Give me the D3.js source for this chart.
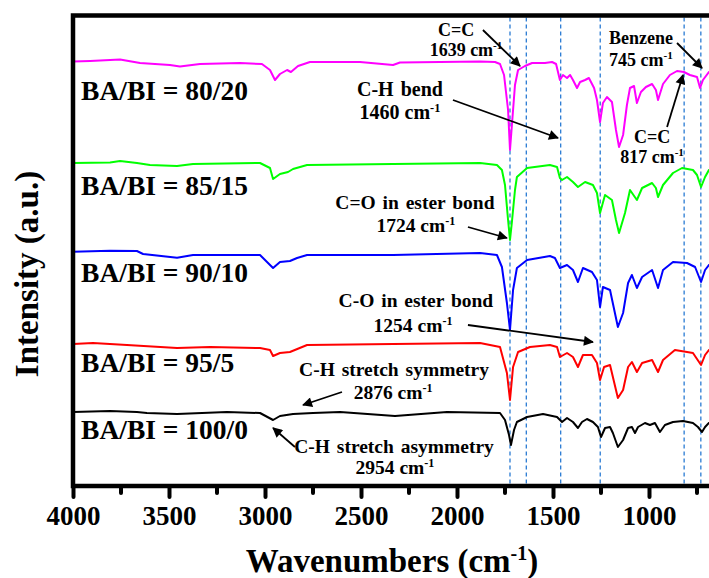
<!DOCTYPE html>
<html>
<head>
<meta charset="utf-8">
<script src="https://cdn.jsdelivr.net/npm/d3@7"></script>
<style>
    body { margin: 0; background: #fff; }
    svg { display: block; }
</style>
</head>
<body>
<svg id="chart" width="709" height="578"></svg>
<script>
// FTIR spectra, [wavenumber (cm-1), intensity (a.u., stacked)]
const ba80 = [[4000,42.45],[3911,42.5],[3755,42.65],[3651,42.3],[3495,42.1],[3443,41.95],[3339,42.2],[3130,42.3],[3016,42.2],
    [2974,41.6],[2948,40.6],[2922,41.2],[2885,41.6],[2865,41.4],[2828,42.0],[2766,42.4],[2505,42.4],[2333,42.1],[2297,42.35],
    [2089,42.4],[1880,42.45],[1802,42.4],[1776,42.2],[1755,41.1],[1734,37.6],[1724,33.6],[1714,36.1],[1698,40.1],[1682,41.6],
    [1646,42.0],[1609,42.3],[1542,42.3],[1505,42.4],[1484,42.2],[1464,40.6],[1448,41.1],[1427,40.8],[1411,41.1],[1396,40.6],
    [1375,39.8],[1359,40.4],[1333,40.6],[1313,40.8],[1286,39.8],[1271,38.6],[1255,36.4],[1240,38.3],[1219,38.9],[1193,38.4],
    [1172,35.6],[1156,33.9],[1135,35.1],[1115,38.1],[1099,39.8],[1078,40.0],[1063,38.3],[1042,39.4],[1016,39.9],[984,40.2],
    [964,39.6],[953,38.6],[927,40.2],[891,41.1],[854,41.5],[818,41.4],[787,41.1],[750,40.9],[734,39.8],[719,40.6],[688,41.4],[650,41.6]];

const ba85 = [[4000,32.3],[3807,32.35],[3755,32.5],[3667,32.3],[3599,32.1],[3458,32.0],[3375,32.2],[3026,32.3],[2974,31.8],
    [2958,30.7],[2922,31.2],[2880,31.4],[2854,31.7],[2781,32.1],[2333,32.2],[1880,32.3],[1792,32.1],[1766,31.6],[1750,30.1],
    [1734,26.6],[1724,24.6],[1714,26.4],[1698,29.6],[1688,30.9],[1635,31.8],[1516,32.1],[1479,31.9],[1464,30.8],[1453,30.6],
    [1427,30.9],[1396,30.4],[1370,29.9],[1333,30.4],[1292,30.1],[1271,29.3],[1255,27.3],[1229,29.1],[1193,28.6],[1172,26.6],
    [1156,25.3],[1125,27.3],[1099,29.6],[1063,28.6],[1036,29.8],[984,30.3],[964,29.8],[953,28.9],[927,30.1],[875,31.3],
    [828,31.8],[771,31.6],[750,31.1],[729,29.9],[708,30.9],[688,31.6],[650,31.8]];

const ba90 = [[4000,23.43],[3807,23.53],[3667,23.5],[3635,23.2],[3458,22.83],[3375,23.1],[3026,23.1],[2958,21.8],[2922,22.4],
    [2870,22.5],[2833,22.8],[2781,23.1],[2333,23.1],[1880,23.3],[1792,23.1],[1766,21.9],[1740,18.3],[1724,15.6],[1708,19.6],
    [1688,21.8],[1635,22.6],[1516,23.0],[1490,22.8],[1464,21.8],[1427,22.1],[1396,21.6],[1370,20.4],[1344,21.8],[1297,21.4],
    [1271,20.6],[1255,17.9],[1240,19.9],[1203,19.6],[1162,15.9],[1135,17.3],[1109,20.3],[1089,21.1],[1063,19.8],[1036,20.9],
    [984,21.6],[953,19.8],[927,21.6],[875,22.4],[802,22.3],[760,21.9],[729,20.4],[708,21.6],[688,22.1],[650,22.4]];

const ba95 = [[4000,14.2],[3896,14.3],[3719,14.1],[3458,13.8],[3286,13.9],[3026,13.8],[2974,13.6],[2958,13.0],[2922,13.3],
    [2870,13.4],[2781,14.1],[1880,14.3],[1776,13.9],[1740,11.3],[1724,8.6],[1708,11.9],[1682,13.4],[1620,13.9],[1516,14.1],
    [1479,13.9],[1464,12.9],[1427,13.3],[1396,12.9],[1370,11.9],[1344,13.1],[1297,13.1],[1271,12.3],[1255,10.6],[1234,11.9],
    [1203,12.1],[1162,8.8],[1135,9.6],[1109,11.9],[1089,12.4],[1063,11.4],[1036,12.3],[984,12.6],[953,11.4],[927,12.6],
    [865,13.6],[802,13.4],[771,13.3],[729,12.1],[708,13.1],[688,13.6],[650,13.8]];

const ba100 = [[4000,7.4],[3807,7.5],[3667,7.4],[3615,7.3],[3458,7.2],[3198,7.4],[3026,7.3],[2958,6.6],[2922,7.0],[2854,7.2],
    [2750,7.3],[2609,7.4],[2323,7.0],[2052,7.4],[1776,7.3],[1750,6.6],[1729,5.1],[1719,4.1],[1703,5.6],[1688,6.4],[1635,6.9],
    [1552,7.2],[1479,6.9],[1453,6.4],[1427,6.8],[1396,6.4],[1370,5.8],[1349,6.4],[1323,6.7],[1292,6.4],[1266,5.9],[1250,4.9],
    [1229,5.8],[1203,5.9],[1188,5.3],[1162,3.9],[1135,4.6],[1109,5.8],[1089,5.9],[1073,5.3],[1057,5.9],[1021,6.3],[995,6.1],
    [969,6.3],[943,5.4],[917,6.1],[875,6.4],[823,6.5],[771,6.3],[745,5.9],[724,5.4],[708,5.9],[688,6.3],[650,6.5]];

const seriesNames = ["BA/BI = 80/20", "BA/BI = 85/15", "BA/BI = 90/10", "BA/BI = 95/5", "BA/BI = 100/0"];
const seriesData = [ba80, ba85, ba90, ba95, ba100];
const xTicks = [4000, 3500, 3000, 2500, 2000, 1500, 1000];
const xMinorTicks = [3750, 3250, 2750, 2250, 1750, 1250, 750];
const peakLines = [1724, 1639, 1460, 1254, 817, 730];

// styling / layout
const colors = ["#ff00ff", "#00ff00", "#0000ff", "#ff0000", "#000000"];
const W = 709, H = 578;
const plotLeft = 73, plotTop = 15.5, plotBottom = 486;
const serif = "Liberation Serif";

const svg = d3.select("#chart")
    .attr("font-family", serif)
    .attr("font-weight", "bold");
let x = d3.scaleLinear().domain([4000, 650]).range([plotLeft, plotLeft + 3350 * 96 / 500]);
let y = d3.scaleLinear().domain([0, 47]).range([plotBottom, 16]);

let defs = svg.append("defs");
defs.append("clipPath").attr("id", "plot")
    .append("rect").attr("x", plotLeft).attr("y", plotTop)
    .attr("width", W - plotLeft).attr("height", plotBottom - plotTop);

defs.append("marker")
    .attr("id", "arrow").attr("viewBox", "0 0 10 10")
    .attr("refX", 9).attr("refY", 5)
    .attr("markerUnits", "userSpaceOnUse")
    .attr("markerWidth", 13).attr("markerHeight", 10)
    .attr("orient", "auto")
    .append("path").attr("d", "M0,0L10,5L0,10z").attr("fill", "#000");

// dashed peak markers
svg.append("g").selectAll("line")
    .data(peakLines)
    .enter().append("line")
    .attr("x1", d => x(d)).attr("x2", d => x(d))
    .attr("y1", plotTop + 2).attr("y2", plotBottom - 2)
    .attr("stroke", "#2a7bd3").attr("stroke-width", 1.3)
    .attr("stroke-dasharray", "4,3");

// spectra
let line = d3.line().x(d => x(d[0])).y(d => y(d[1]));
svg.append("g").attr("clip-path", "url(#plot)")
    .selectAll("path")
    .data(seriesData)
    .enter().append("path")
    .attr("d", line)
    .attr("fill", "none")
    .attr("stroke", (d, i) => colors[i])
    .attr("stroke-width", 2)
    .attr("stroke-linejoin", "round");

// sample labels (baseline in data units)
const labelY = [38.6, 29.1, 20.4, 11.4, 4.7];
svg.append("g").selectAll("text")
    .data(seriesNames)
    .enter().append("text")
    .attr("x", x(3958)).attr("y", (d, i) => y(labelY[i]))
    .attr("font-size", 27.5)
    .text(d => d);

// x axis
let axis = d3.axisBottom(x).tickValues(xTicks).tickSize(11).tickPadding(8).tickFormat(d3.format("d"));
let gx = svg.append("g").attr("transform", "translate(0," + plotBottom + ")").call(axis)
    .attr("font-family", serif);
gx.select(".domain").remove();
gx.selectAll(".tick line").attr("stroke-width", 4).attr("stroke-linecap", "round");
gx.selectAll(".tick text").attr("font-weight", "bold")
    .attr("font-size", 27).attr("dy", 0).attr("y", 39);
gx.selectAll(".minor").data(xMinorTicks).enter().append("line").attr("class", "minor")
    .attr("x1", d => x(d)).attr("x2", d => x(d)).attr("y1", 0).attr("y2", 7)
    .attr("stroke", "#000").attr("stroke-width", 4).attr("stroke-linecap", "round");

// frame (left, top, bottom)
svg.append("path")
    .attr("d", `M${W + 5},${plotTop}H${plotLeft}V${plotBottom}H${W + 5}`)
    .attr("fill", "none").attr("stroke", "#000").attr("stroke-width", 4.5);

// axis titles
let xt = svg.append("text").attr("x", 392).attr("y", 572).attr("text-anchor", "middle").attr("font-size", 33);
xt.append("tspan").text("Wavenumbers (cm");
xt.append("tspan").attr("dy", -12).attr("font-size", 20).text("-1");
xt.append("tspan").attr("dy", 12).text(")");

svg.append("text")
    .attr("transform", "translate(38,274) rotate(-90)")
    .attr("text-anchor", "middle").attr("font-size", 33)
    .text("Intensity (a.u.)");

// peak annotations: two lines of text + arrow, all in data units
const notes = [
    {a: "C=C", n: "1639", p1: [2005, 45.0], p2: [1953, 43.0], from: [1865, 45.6], to: [1672, 42.0], fs: 18},
    {a: "C-H bend", n: "1460", p1: [2297, 39.0], p2: [2297, 36.7], from: [2021, 38.6], to: [1474, 34.8], fs: 20},
    {a: "Benzene", n: "745", p1: [1042, 44.2], p2: [1042, 42.0], from: [854, 44.3], to: [724, 41.8], fs: 18},
    {a: "C=C", n: "817", p1: [984, 34.3], p2: [984, 32.3], from: [906, 35.9], to: [823, 41.1], fs: 18},
    {a: "C=O in ester bond", n: "1724", p1: [2219, 27.7], p2: [2214, 25.4], from: [1943, 25.9], to: [1740, 24.8], fs: 19.5},
    {a: "C-O in ester bond", n: "1254", p1: [2214, 17.9], p2: [2229, 15.4], from: [1943, 16.1], to: [1292, 14.4], fs: 19.5},
    {a: "C-H stretch symmetry", n: "2876", p1: [2328, 11.0], p2: [2333, 8.7], from: [2599, 9.4], to: [2802, 8.1], fs: 19.5},
    {a: "C-H stretch asymmetry", n: "2954", p1: [2328, 3.3], p2: [2323, 1.2], from: [2844, 3.9], to: [2958, 5.8], fs: 19.5}
];

let ng = svg.append("g").selectAll("g").data(notes).enter().append("g");
ng.append("text")
    .attr("x", d => x(d.p1[0])).attr("y", d => y(d.p1[1]))
    .attr("text-anchor", "middle").attr("font-size", d => d.fs)
    .attr("word-spacing", 2)
    .text(d => d.a);
let num = ng.append("text")
    .attr("x", d => x(d.p2[0])).attr("y", d => y(d.p2[1]))
    .attr("text-anchor", "middle").attr("font-size", d => d.fs);
num.append("tspan").text(d => d.n + " cm");
num.append("tspan").attr("dy", -7).attr("font-size", d => d.fs * 0.62).text("-1");
ng.append("line")
    .attr("x1", d => x(d.from[0])).attr("y1", d => y(d.from[1]))
    .attr("x2", d => x(d.to[0])).attr("y2", d => y(d.to[1]))
    .attr("stroke", "#000").attr("stroke-width", 1.8)
    .attr("marker-end", "url(#arrow)");
</script>
</body>
</html>
